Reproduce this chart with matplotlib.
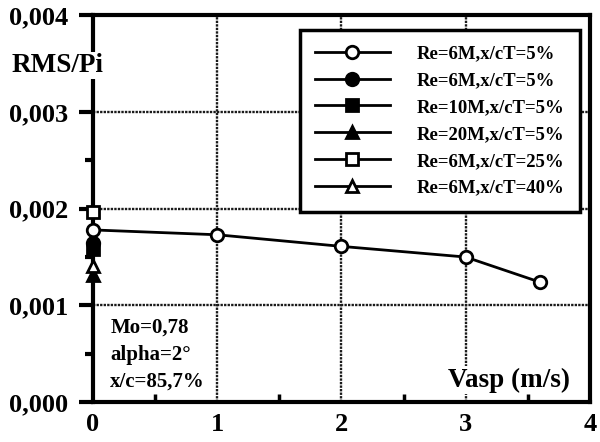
import matplotlib
matplotlib.use("Agg")
import matplotlib.pyplot as plt
from matplotlib.ticker import MultipleLocator, FuncFormatter

plt.rcParams['font.family'] = ['Liberation Serif', 'DejaVu Serif']
plt.rcParams['font.weight'] = 'bold'

labels = ["Re=6M,x/cT=5%", "Re=6M,x/cT=5%", "Re=10M,x/cT=5%",
          "Re=20M,x/cT=5%", "Re=6M,x/cT=25%", "Re=6M,x/cT=40%"]
markers = ["o", "o", "s", "^", "s", "^"]
filled = [False, True, True, True, False, False]

vasp_main = [0, 1, 2, 3, 3.6]
rms_main = [0.00178, 0.00173, 0.00161, 0.00150, 0.00124]

single_x = [0, 0, 0, 0, 0]
single_y = [0.00164, 0.00158, 0.00131, 0.00197, 0.00141]

xticks = [0, 1, 2, 3, 4]
yticks = [0.000, 0.001, 0.002, 0.003, 0.004]

fig = plt.figure(figsize=(6, 4.42), dpi=100)
ax = fig.add_axes([0.155, 0.09, 0.828, 0.876])

handles = []
for i, (lab, m, f) in enumerate(zip(labels, markers, filled)):
    fc = 'black' if f else 'white'
    if i == 0:
        xs, ys = vasp_main, rms_main
    else:
        xs, ys = [single_x[i - 1]], [single_y[i - 1]]
    h, = ax.plot(xs, ys, color='black', lw=2, marker=m, ms=9,
                 mfc=fc, mec='black', mew=2, label=lab, clip_on=False, zorder=5)
    handles.append(h)

ax.set_xlim(0, 4)
ax.set_ylim(0, 0.004)
ax.set_xticks(xticks)
ax.set_yticks(yticks)
ax.xaxis.set_minor_locator(MultipleLocator(0.5))
ax.yaxis.set_minor_locator(MultipleLocator(0.0005))
ax.yaxis.set_major_formatter(FuncFormatter(lambda v, p: f"{v:.3f}".replace('.', ',')))
ax.xaxis.set_major_formatter(FuncFormatter(lambda v, p: f"{v:.0f}"))

ax.grid(True, which='major', color='#1a1a1a', lw=1.7, ls=(0, (1, 0.5)))
for s in ax.spines.values():
    s.set_linewidth(3)
ax.tick_params(axis='both', which='major', labelsize=19, width=3)
ax.tick_params(axis='y', which='major', direction='out', length=10, pad=8)
ax.tick_params(axis='y', which='minor', direction='out', length=6, width=3)
ax.tick_params(axis='x', which='major', direction='in', length=0, pad=8)
ax.tick_params(axis='x', which='minor', direction='in', length=6, width=2.5)
for t in ax.get_xticklabels() + ax.get_yticklabels():
    t.set_fontweight('bold')

leg = ax.legend(handles=handles, loc='upper right', bbox_to_anchor=(0.98, 0.961),
                frameon=True, fancybox=False, handlelength=4.0,
                labelspacing=0.52, borderpad=0.8, handletextpad=1.45, borderaxespad=0,
                prop={'weight': 'bold', 'size': 13.5})
leg.get_frame().set_edgecolor('black')
leg.get_frame().set_linewidth(2.5)
leg.get_frame().set_facecolor('white')
leg.get_frame().set_alpha(1)
leg.set_zorder(10)

fig.text(0.02, 0.852, "RMS/Pi", fontsize=19.5, fontweight='bold', ha='left', va='center',
         bbox=dict(facecolor='white', edgecolor='none', pad=1), zorder=20)
ax.text(0.035, 0.028, "Mo=0,78\nalpha=2°\nx/c=85,7%", transform=ax.transAxes,
        fontsize=15, fontweight='bold', ha='left', va='bottom', linespacing=1.45)
ax.text(0.96, 0.025, "Vasp (m/s)", transform=ax.transAxes, fontsize=19.5,
        fontweight='bold', ha='right', va='bottom',
        bbox=dict(facecolor='white', edgecolor='none', pad=1), zorder=8)

fig.savefig("out.png", dpi=100)
